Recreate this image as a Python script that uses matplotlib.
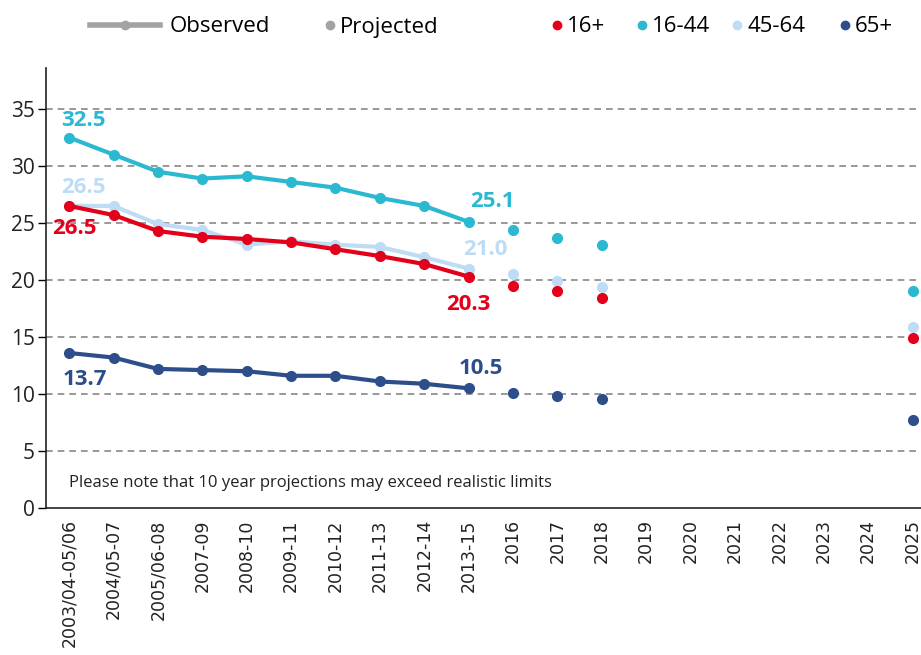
import matplotlib
matplotlib.use("Agg")
import matplotlib.pyplot as plt
from matplotlib.lines import Line2D

categories = ["2003/04-05/06", "2004/05-07", "2005/06-08", "2007-09", "2008-10",
              "2009-11", "2010-12", "2011-13", "2012-14", "2013-15",
              "2016", "2017", "2018", "2019", "2020", "2021", "2022", "2023", "2024", "2025"]

obs_16plus = [26.5, 25.7, 24.3, 23.8, 23.6, 23.3, 22.7, 22.1, 21.4, 20.3]
obs_16_44 = [32.5, 31.0, 29.5, 28.9, 29.1, 28.6, 28.1, 27.2, 26.5, 25.1]
obs_45_64 = [26.5, 26.5, 24.9, 24.4, 23.1, 23.4, 23.1, 22.9, 22.0, 21.0]
obs_65plus = [13.6, 13.2, 12.2, 12.1, 12.0, 11.6, 11.6, 11.1, 10.9, 10.5]

proj_cats = ["2016", "2017", "2018", "2025"]
proj_16plus = [19.5, 19.0, 18.4, 14.9]
proj_16_44 = [24.4, 23.7, 23.1, 19.0]
proj_45_64 = [20.5, 19.9, 19.4, 15.9]
proj_65plus = [10.1, 9.8, 9.6, 7.7]

yticks = [0, 5, 10, 15, 20, 25, 30, 35]

C_16 = "#e2001a"
C_1644 = "#2bb9d1"
C_4564 = "#bfdcf5"
C_65 = "#2d4e8a"
C_GREY = "#a3a3a3"

plt.rcParams['font.family'] = ['Open Sans', 'DejaVu Sans']

fig = plt.figure(figsize=(9.21, 6.55), dpi=100)
ax = fig.add_axes([0.05, 0.2244, 0.95, 0.6718])

xpos = {c: i for i, c in enumerate(categories)}
obs_x = [xpos[c] for c in categories[:10]]
proj_x = [xpos[c] for c in proj_cats]

series = [
    (obs_45_64, proj_45_64, C_4564),
    (obs_16_44, proj_16_44, C_1644),
    (obs_16plus, proj_16plus, C_16),
    (obs_65plus, proj_65plus, C_65),
]
for obs, proj, col in series:
    ax.plot(obs_x, obs, color=col, lw=3, marker='o', ms=7, zorder=3)
    ax.plot(proj_x, proj, ls='none', color=col, marker='o', ms=7, zorder=3)

# value labels
lab_kw = dict(fontsize=16, fontweight='bold', textcoords='offset points', ha='left', va='center')
ax.annotate(f"{obs_16_44[0]:.1f}", (0, obs_16_44[0]), xytext=(-6, 12), color=C_1644, **lab_kw)
ax.annotate(f"{obs_45_64[0]:.1f}", (0, obs_45_64[0]), xytext=(-6, 13), color=C_4564, **lab_kw)
ax.annotate(f"{obs_16plus[0]:.1f}", (0, obs_16plus[0]), xytext=(-12, -16), color=C_16, **lab_kw)
ax.annotate("13.7", (0, obs_65plus[0]), xytext=(-5, -19), color=C_65, **lab_kw)
ax.annotate(f"{obs_16_44[-1]:.1f}", (9, obs_16_44[-1]), xytext=(1, 15), color=C_1644, **lab_kw)
ax.annotate(f"{obs_45_64[-1]:.1f}", (9, obs_45_64[-1]), xytext=(-4, 14), color=C_4564, **lab_kw)
ax.annotate(f"{obs_16plus[-1]:.1f}", (9, obs_16plus[-1]), xytext=(-16, -20), color=C_16, **lab_kw)
ax.annotate(f"{obs_65plus[-1]:.1f}", (9, obs_65plus[-1]), xytext=(-7, 14), color=C_65, **lab_kw)

ax.text(0, 2.2, "Please note that 10 year projections may exceed realistic limits",
        fontsize=12, color='#222222', ha='left', va='center')

ax.set_xlim(-0.52, 19.19)
ax.set_ylim(0, 38.6)
ax.set_yticks(yticks)
ax.set_yticklabels([str(v) for v in yticks], fontsize=15, color='#222222')
ax.set_xticks(range(len(categories)))
ax.set_xticklabels(categories, rotation=90, fontsize=12.5, family=['DejaVu Sans'], color='#222222')
ax.tick_params(axis='x', length=0, pad=8)
ax.tick_params(axis='y', length=6, width=1, direction='out', pad=2)

for v in yticks[1:]:
    ax.axhline(v, color='#888888', lw=1.2, ls=(0, (4, 3)), zorder=1)

for s in ['top', 'right']:
    ax.spines[s].set_visible(False)
for s in ['left', 'bottom']:
    ax.spines[s].set_color('#222222')
    ax.spines[s].set_linewidth(1.2)

# legend entries: (handle, label, left pixel of handle, handlelength, textpad)
fs = 16
em = fs * 100 / 72.0
entries = [
    (Line2D([0], [0], color=C_GREY, lw=4, marker='o', ms=6), "Observed", 90, 70 / em, 10 / em),
    (Line2D([0], [0], color=C_GREY, ls='none', marker='o', ms=6), "Projected", 325, 10 / em, 5 / em),
    (Line2D([0], [0], color=C_16, ls='none', marker='o', ms=6), "16+", 552, 10 / em, 5 / em),
    (Line2D([0], [0], color=C_1644, ls='none', marker='o', ms=6), "16-44", 637, 10 / em, 5 / em),
    (Line2D([0], [0], color=C_4564, ls='none', marker='o', ms=6), "45-64", 732, 10 / em, 5 / em),
    (Line2D([0], [0], color=C_65, ls='none', marker='o', ms=6), "65+", 840, 10 / em, 5 / em),
]
for h, lab, px, hl, tp in entries:
    fig.legend([h], [lab], loc='center left', bbox_to_anchor=(px / 921.0, 1 - 27 / 655.0),
               frameon=False, fontsize=fs, handlelength=hl, handletextpad=tp,
               borderpad=0, borderaxespad=0)

fig.savefig("out.png", dpi=100)
